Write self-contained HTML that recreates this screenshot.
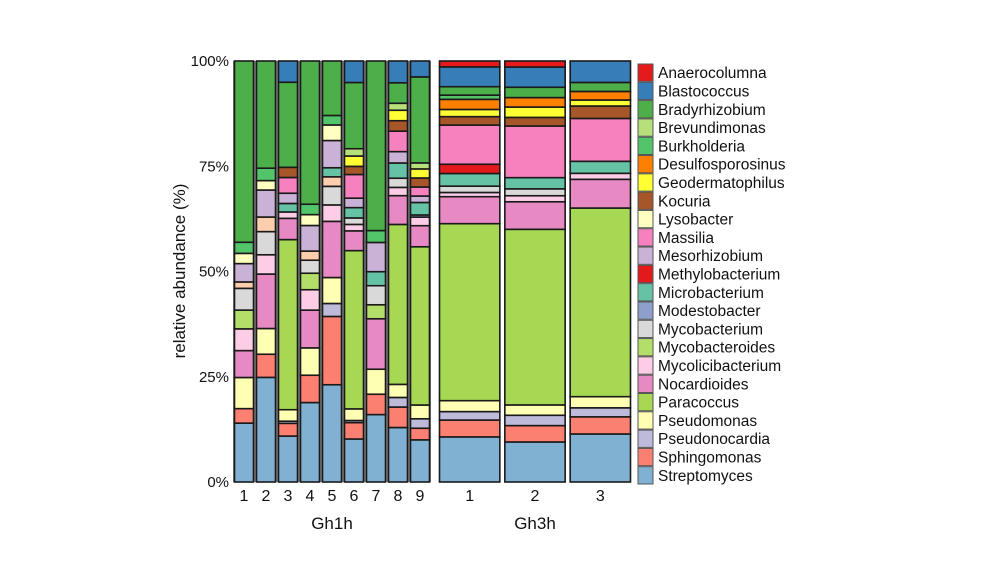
<!DOCTYPE html>
<html><head><meta charset="utf-8">
<style>
html,body{margin:0;padding:0;background:#fff;width:1000px;height:562px;overflow:hidden}
svg text{font-family:"Liberation Sans",sans-serif;fill:#111}
</style></head>
<body>
<svg id="chart" width="1000" height="562" viewBox="0 0 1000 562" xmlns="http://www.w3.org/2000/svg"></svg>
<script>
// bottom -> top stacking order; 12 samples: Gh1h 1-9, Gh3h 1-3
const sampleLabels = ["1","2","3","4","5","6","7","8","9","1","2","3"];
const groupNames = ["Gh1h","Gh3h"];
const yTicks = [0,25,50,75,100];
const yTickLabels = ["0%","25%","50%","75%","100%"];
const seriesNames = ["Streptomyces","Sphingomonas","Pseudonocardia","Pseudomonas","Paracoccus","Nocardioides","Mycolicibacterium","Mycobacteroides","Mycobacterium","Other","Modestobacter","Microbacterium","Methylobacterium","Mesorhizobium","Massilia","Lysobacter","Kocuria","Geodermatophilus","Desulfosporosinus","Burkholderia","Brevundimonas","Bradyrhizobium","Blastococcus","Anaerocolumna"];
const Streptomyces      = [13.8,24.4,10.8,18.3,22.5,10,15.9,12.5,9.8,10.7,9.3,11.2];
const Sphingomonas      = [3.4,5.4,3,6.3,15.8,3.8,4.8,4.7,2.7,4,3.8,4];
const Pseudonocardia    = [0,0,0.5,0,3,0.5,0,2.2,2.2,2,2.4,2.1];
const Pseudomonas       = [7.3,6,2.7,6.3,6,2.7,5.9,3,3.2,2.6,2.4,2.6];
const Paracoccus        = [0,0,40,0,0,36.8,0,36.7,36.8,42,40.8,44];
const Nocardioides      = [6.3,12.7,5,8.7,13,4.6,11.9,6.6,4.9,6.4,6.4,6.7];
const Mycolicibacterium = [5.1,4.5,1.5,4.7,3.8,1.5,0,1.9,2,1,1.4,1.4];
const Mycobacteroides   = [4.4,0,0,3.8,0,0,3.3,0,0,0,0,0];
const Mycobacterium     = [5.1,5.4,0,3,4.3,1.5,4.5,2.1,0,1.5,1.6,0];
const Other             = [1.5,3.4,0,2.1,2.2,0,0,0,0,0,0,0];
const Modestobacter     = [0,0,0,0,0,0,0,0,0.5,0,0,0];
const Microbacterium    = [0,0,2,0,2.1,2.4,3.3,3.5,2.9,3,2.6,2.8];
const Methylobacterium  = [0,0,0,0,0,0,0,0,0,2.2,0,0];
const Mesorhizobium     = [4.3,6.3,2.4,5.9,6.3,2.2,6.9,2.6,1.5,0,0,0];
const Massilia          = [0,0,3.7,0,0,5.5,0,4.7,2.1,9.3,12,10];
const Lysobacter        = [2.4,2.2,0,2.5,3.6,0,0,0,0,0,0,0];
const Kocuria           = [0,0,2.4,0,0,1.9,0,2.4,2.1,2,2,2.9];
const Geodermatophilus  = [0,0,0,0,0,2.4,0,2.4,2.1,1.7,2.4,1.4];
const Desulfosporosinus = [0,0,0,0,0,0,0,0,0,2.4,2.2,2];
const Burkholderia      = [2.6,2.9,0,2.4,2.2,0,2.8,0,0,1,0,0];
const Brevundimonas     = [0,0,0,0,0,1.7,0,1.6,1.4,0,0,0];
const Bradyrhizobium    = [42.5,25,20,33,12.6,15.4,40,4.7,20,2,2.4,2.1];
const Blastococcus      = [0,0,5,0,0,5,0,5,3.7,4.7,4.7,5];
const Anaerocolumna     = [0,0,0,0,0,0,0,0,0,1.4,1.4,0];
const seriesValues = [Streptomyces,Sphingomonas,Pseudonocardia,Pseudomonas,Paracoccus,Nocardioides,Mycolicibacterium,Mycobacteroides,Mycobacterium,Other,Modestobacter,Microbacterium,Methylobacterium,Mesorhizobium,Massilia,Lysobacter,Kocuria,Geodermatophilus,Desulfosporosinus,Burkholderia,Brevundimonas,Bradyrhizobium,Blastococcus,Anaerocolumna];
const legendNames = ["Anaerocolumna","Blastococcus","Bradyrhizobium","Brevundimonas","Burkholderia","Desulfosporosinus","Geodermatophilus","Kocuria","Lysobacter","Massilia","Mesorhizobium","Methylobacterium","Microbacterium","Modestobacter","Mycobacterium","Mycobacteroides","Mycolicibacterium","Nocardioides","Paracoccus","Pseudomonas","Pseudonocardia","Sphingomonas","Streptomyces"];

const colors = {Anaerocolumna:"#e41a1c",Blastococcus:"#377eb8",Bradyrhizobium:"#4daf4a",Brevundimonas:"#b8e07a",Burkholderia:"#52c46a",Desulfosporosinus:"#ff7f00",Geodermatophilus:"#ffff33",Kocuria:"#a65628",Lysobacter:"#ffffbf",Massilia:"#f781bf",Mesorhizobium:"#cab2d6",Methylobacterium:"#e31a1c",Microbacterium:"#66c2a5",Modestobacter:"#8da0cb",Mycobacterium:"#d9d9d9",Mycobacteroides:"#b3de69",Mycolicibacterium:"#fccde5",Nocardioides:"#e78ac3",Paracoccus:"#a6d854",Pseudomonas:"#ffffb3",Pseudonocardia:"#bebada",Sphingomonas:"#fb8072",Streptomyces:"#80b1d3",Other:"#fdcdac"};

const NS="http://www.w3.org/2000/svg";
const svg=document.getElementById("chart");
function mk(tag,attrs,parent){const e=document.createElementNS(NS,tag);for(const k in attrs)e.setAttribute(k,attrs[k]);(parent||svg).appendChild(e);return e;}
const yTop=61,yBot=482;
function yScale(p){return yBot-(yBot-yTop)*p/100;}
const panels=[{x0:233,x1:431,idx:[0,1,2,3,4,5,6,7,8],bg:"#808080",pad:1.5},{x0:437,x1:633,idx:[9,10,11],bg:"#ffffff",pad:2.5}];
function xBand(panel,i){const n=panel.idx.length;const step=(panel.x1-panel.x0)/n;return {x:panel.x0+step*i+panel.pad,w:step-2*panel.pad,c:panel.x0+step*(i+0.5)};}

panels.forEach((p,pi)=>{
  const bg=mk("rect",{x:p.x0,y:yTop,width:p.x1-p.x0,height:yBot-yTop,fill:p.bg});
  
  
  p.idx.forEach((s,i)=>{
    const b=xBand(p,i);
    let total=0;seriesValues.forEach(a=>total+=a[s]);
    let cum=0;
    seriesValues.forEach((arr,k)=>{
      const v=arr[s]/total*100;if(v<=0)return;
      const y1=yScale(cum+v),y0=yScale(cum);cum+=v;
      const r=mk("rect",{x:b.x,y:y1,width:b.w,height:y0-y1,fill:colors[seriesNames[k]],stroke:"#1a1a1a","stroke-width":1.6});
      
      
    });
    const t=mk("text",{x:b.c,y:501,"text-anchor":"middle","font-size":16});t.textContent=sampleLabels[s];
    
    
  });
  const g=mk("text",{x:(p.x0+p.x1)/2,y:529,"text-anchor":"middle","font-size":17});g.textContent=groupNames[pi];
  
  
});
yTicks.forEach((v,i)=>{
  const t=mk("text",{x:229,y:yScale(v)+5,"text-anchor":"end","font-size":15});t.textContent=yTickLabels[i];
  
  
});
const yt=mk("text",{x:185,y:271,"text-anchor":"middle","font-size":17,transform:"rotate(-90 185 271)"});yt.textContent="relative abundance (%)";


const step=(yBot-yTop)/legendNames.length;
legendNames.forEach((n,i)=>{
  const y=yTop+3+step*i;
  const r=mk("rect",{x:638,y:y,width:15,height:step-1,fill:colors[n],stroke:"#555","stroke-width":1});
  
  
  const t=mk("text",{x:658,y:y+step/2+5,"font-size":15.5});t.textContent=n;
  
  
});
</script>
</body></html>
